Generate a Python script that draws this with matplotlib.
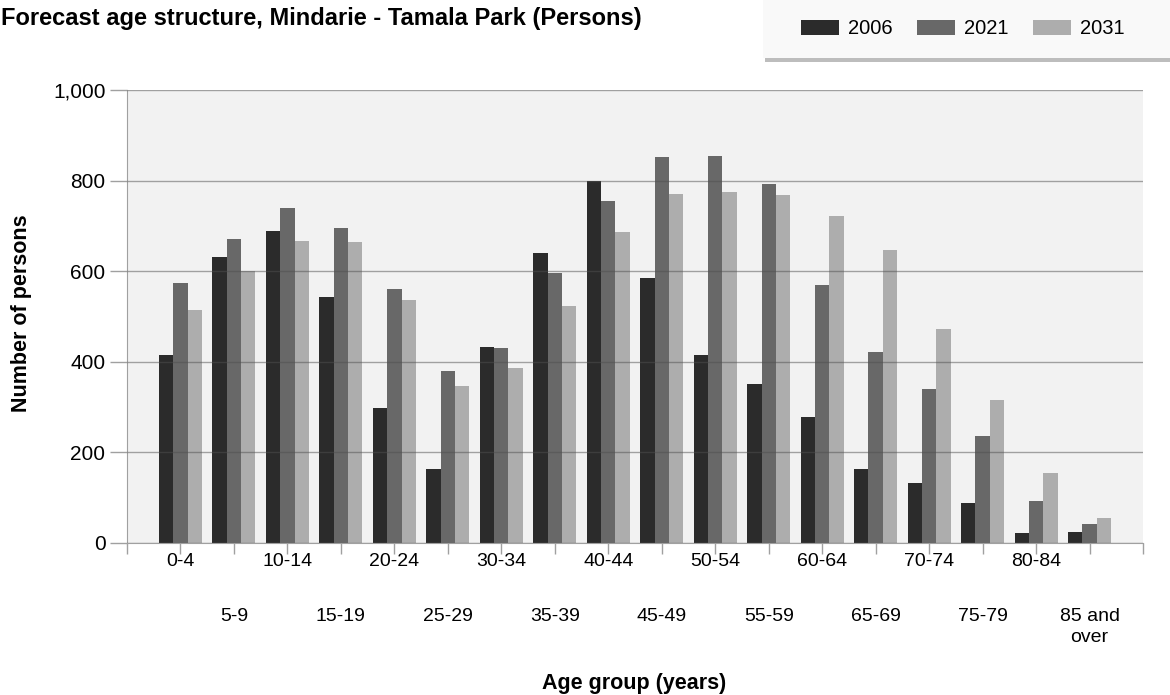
import matplotlib
matplotlib.use("Agg")
import matplotlib.pyplot as plt
from matplotlib.patches import Rectangle, Patch
from matplotlib.ticker import FuncFormatter
from matplotlib.transforms import blended_transform_factory

age_groups = ["0-4", "5-9", "10-14", "15-19", "20-24", "25-29", "30-34", "35-39",
              "40-44", "45-49", "50-54", "55-59", "60-64", "65-69", "70-74",
              "75-79", "80-84", "85 and\nover"]
years = ["2006", "2021", "2031"]
persons_2006 = [414, 632, 689, 544, 297, 163, 433, 641, 800, 586, 414, 351, 279, 163, 133, 89, 22, 24]
persons_2021 = [574, 670, 740, 695, 561, 379, 431, 597, 754, 853, 855, 792, 569, 421, 339, 236, 93, 43]
persons_2031 = [515, 600, 666, 664, 536, 347, 387, 523, 687, 771, 775, 768, 721, 647, 473, 315, 154, 55]
y_ticks = [0, 200, 400, 600, 800, 1000]

colors = ["#2b2b2b", "#686868", "#adadad"]
W, H = 1170, 695

plt.rcParams["font.family"] = ["Liberation Sans", "DejaVu Sans"]

fig = plt.figure(figsize=(W / 100, H / 100), dpi=100)
ax = fig.add_axes([127 / W, 1 - 543 / H, (1143 - 127) / W, (543 - 90) / H])
ax.set_facecolor("#f2f2f2")

x = list(range(1, len(age_groups) + 1))
bw = 0.268
series = [persons_2006, persons_2021, persons_2031]
for i, vals in enumerate(series):
    ax.bar([xi + (i - 1) * bw for xi in x], vals, width=bw, color=colors[i],
           edgecolor="none", zorder=2)

ax.set_xlim(0, len(age_groups) + 1)
ax.set_ylim(0, 1000)
ax.set_yticks(y_ticks)
ax.yaxis.set_major_formatter(FuncFormatter(lambda v, p: f"{int(v):,}"))
ax.grid(axis="y", color="#505050", alpha=0.5, linewidth=1, zorder=3)
ax.set_axisbelow(False)

ax.set_xticks(range(0, len(age_groups) + 2))
ax.set_xticklabels([])
ax.tick_params(axis="x", length=8, color="#a0a0a0", width=1)
ax.tick_params(axis="y", length=12, color="#a0a0a0", width=1, labelsize=15, pad=3.5)

for s in ["top", "right"]:
    ax.spines[s].set_visible(False)
for s in ["left", "bottom"]:
    ax.spines[s].set_color("#a0a0a0")

# staggered category labels
tr = blended_transform_factory(ax.transData, ax.transAxes)
for i, lab in enumerate(age_groups):
    yy = -0.022 if i % 2 == 0 else -0.143
    ax.text(x[i], yy, lab, transform=tr, ha="center", va="top", fontsize=14,
            linespacing=1.35)

fig.text(1 / W, 1 - 18 / H, "Forecast age structure, Mindarie - Tamala Park (Persons)",
         fontsize=17, fontweight="bold", ha="left", va="center")
fig.text(22 / W, 1 - 313 / H, "Number of persons", rotation=90, fontsize=15.5,
         fontweight="bold", ha="center", va="center")
fig.text(634 / W, 1 - 683 / H, "Age group (years)", fontsize=15.5,
         fontweight="bold", ha="center", va="center")

# legend box with shadow
fig.patches.append(Rectangle((765 / W, 1 - 62 / H), 420 / W, 6 / H, transform=fig.transFigure,
                             facecolor="#bdbdbd", edgecolor="none", zorder=0))
fig.patches.append(Rectangle((763 / W, 1 - 58 / H), 420 / W, 70 / H, transform=fig.transFigure,
                             facecolor="#f9f9f9", edgecolor="none", zorder=1))
handles = [Patch(facecolor=c, edgecolor="none") for c in colors]
fig.legend(handles, years, loc="center", bbox_to_anchor=(963 / W, 1 - 29 / H), ncol=3,
           frameon=False, fontsize=14.5, handlelength=1.9, handleheight=0.8,
           handletextpad=0.45, columnspacing=1.2)

fig.savefig("out.png", dpi=100)
plt.close(fig)
